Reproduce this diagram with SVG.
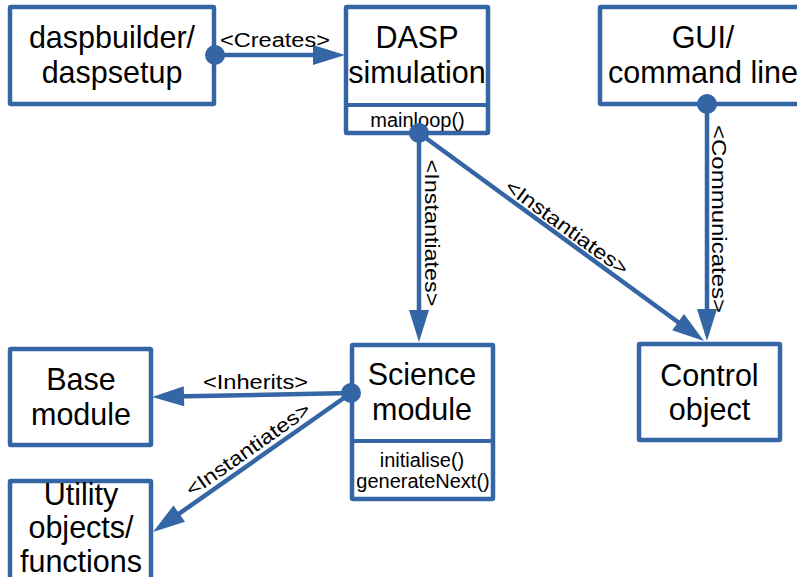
<svg xmlns="http://www.w3.org/2000/svg" width="797" height="577" viewBox="0 0 797 577">
<style>
.box{fill:#fff;stroke:#3465a4;stroke-width:4.5}
.div{stroke:#3465a4;stroke-width:4;fill:none}
.t{font-family:"Liberation Sans",Arial,sans-serif;font-size:30.5px;fill:#000;text-anchor:middle}
.s{font-family:"Liberation Sans",Arial,sans-serif;font-size:20px;fill:#000;text-anchor:middle}
.c{stroke:#3465a4;stroke-width:4.5;fill:none;marker-end:url(#ah)}
.dot{fill:#3465a4}
</style>
<defs>
<marker id="ah" markerUnits="userSpaceOnUse" markerWidth="34" markerHeight="22" refX="12" refY="10" orient="auto" overflow="visible">
<path d="M0,0 L32,10 L0,20 Z" fill="#3465a4"/>
</marker>
</defs>
<g id="connectors">
<line class="c" x1="215" y1="55" x2="325" y2="55"/>
<line class="c" x1="419" y1="133" x2="419" y2="322"/>
<line class="c" x1="419" y1="133" x2="687.8" y2="329.2"/>
<line class="c" x1="707" y1="104" x2="707" y2="321"/>
<line class="c" x1="351" y1="393" x2="172" y2="396.6"/>
<line class="c" x1="351" y1="393" x2="169.4" y2="520.5"/>
<text class="s" x="275" y="47" textLength="110" lengthAdjust="spacingAndGlyphs">&lt;Creates&gt;</text>
<text class="s" x="425" y="233" transform="rotate(90 425 233)" textLength="147" lengthAdjust="spacingAndGlyphs">&lt;Instantiates&gt;</text>
<text class="s" x="563" y="233" transform="rotate(36.1 563 233)" textLength="147" lengthAdjust="spacingAndGlyphs">&lt;Instantiates&gt;</text>
<text class="s" x="712" y="219" transform="rotate(90 712 219)" textLength="188" lengthAdjust="spacingAndGlyphs">&lt;Communicates&gt;</text>
<text class="s" x="255.5" y="389" textLength="105" lengthAdjust="spacingAndGlyphs">&lt;Inherits&gt;</text>
<text class="s" x="252" y="455" transform="rotate(-35.1 252 455)" textLength="147" lengthAdjust="spacingAndGlyphs">&lt;Instantiates&gt;</text>
</g>
<g id="daspbuilder">
<rect class="box" x="10" y="7" width="204" height="97" rx="1"/>
<text class="t" x="112" y="48">daspbuilder/</text>
<text class="t" x="112" y="83">daspsetup</text>
</g>
<g id="dasp">
<rect class="box" x="346" y="7" width="142" height="126" rx="1"/>
<line class="div" x1="346" y1="105" x2="488" y2="105"/>
<text class="t" x="417" y="48">DASP</text>
<text class="t" x="417" y="83">simulation</text>
<text class="s" x="417.5" y="127">mainloop()</text>
</g>
<g id="gui">
<rect class="box" x="600" y="7" width="208" height="97" rx="1"/>
<text class="t" x="703" y="48">GUI/</text>
<text class="t" x="703" y="83">command line</text>
</g>
<g id="science">
<rect class="box" x="352" y="345" width="141" height="154" rx="1"/>
<line class="div" x1="352" y1="441" x2="493" y2="441"/>
<text class="t" x="422" y="385">Science</text>
<text class="t" x="422" y="420">module</text>
<text class="s" x="422" y="467">initialise()</text>
<text class="s" x="423" y="488">generateNext()</text>
</g>
<g id="base">
<rect class="box" x="10" y="349" width="141" height="96" rx="1"/>
<text class="t" x="81" y="390">Base</text>
<text class="t" x="81" y="425">module</text>
</g>
<g id="control">
<rect class="box" x="639" y="344" width="141" height="96" rx="1"/>
<text class="t" x="709.5" y="386">Control</text>
<text class="t" x="709.5" y="420">object</text>
</g>
<g id="utility">
<rect class="box" x="10" y="481" width="141" height="110" rx="1"/>
<text class="t" x="81" y="505">Utility</text>
<text class="t" x="81" y="538">objects/</text>
<text class="t" x="81" y="572">functions</text>
</g>
<g id="dots">
<circle class="dot" cx="215" cy="55" r="10"/>
<circle class="dot" cx="419" cy="133" r="10"/>
<circle class="dot" cx="707" cy="104" r="10"/>
<circle class="dot" cx="351" cy="393" r="10"/>
</g>
</svg>
